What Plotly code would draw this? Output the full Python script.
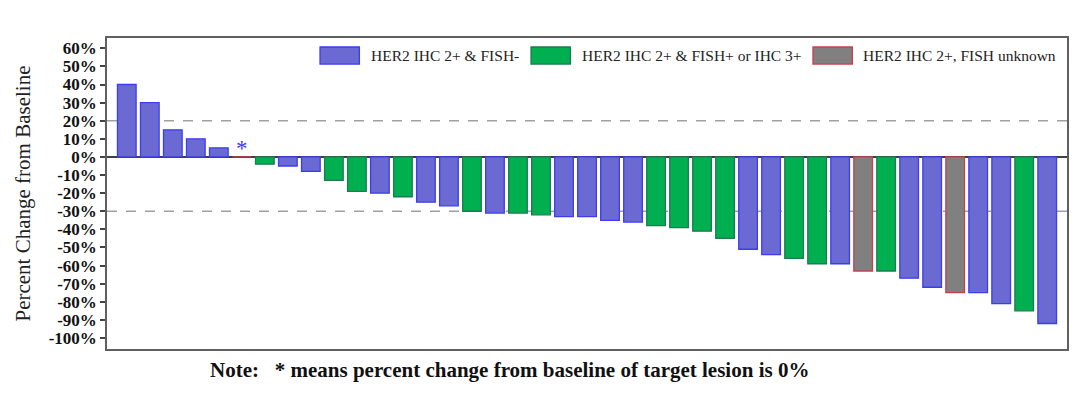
import plotly.graph_objects as go

# ---------------- data ----------------
values = [40, 30, 15, 10, 5, 0, -4, -5, -8, -13, -19, -20, -22, -25, -27,
          -30, -31, -31, -32, -33, -33, -35, -36, -38, -39, -41, -45,
          -51, -54, -56, -59, -59, -63, -63, -67, -72, -75, -75, -81, -85, -92]
groups = ["A", "A", "A", "A", "A", "C", "B", "A", "A", "B", "B", "A", "B", "A", "A",
          "B", "A", "B", "B", "A", "A", "A", "A", "B", "B", "B", "B",
          "A", "A", "B", "B", "A", "C", "B", "A", "A", "C", "A", "A", "B", "A"]
group_keys = ["A", "B", "C"]
group_names = ["HER2 IHC 2+ & FISH-", "HER2 IHC 2+ & FISH+ or IHC 3+", "HER2 IHC 2+, FISH unknown"]
zero_marker_index = [5]
tick_vals = [60, 50, 40, 30, 20, 10, 0, -10, -20, -30, -40, -50, -60, -70, -80, -90, -100]
tick_text = [f"{v}%" for v in tick_vals]
ref_lines = [20, -30]

# ---------------- style ----------------
fills = {"A": "#6A6AD2", "B": "#00B050", "C": "#808080"}
borders = {"A": "#3C3CF0", "B": "#1E7A50", "C": "#C8404C"}
FONT = "Liberation Serif"

fig = go.Figure()
for key, name in zip(group_keys, group_names):
    xs = [i for i, g in enumerate(groups) if g == key]
    ys = [values[i] for i in xs]
    fig.add_trace(go.Bar(
        x=xs, y=ys, name=name, width=0.81,
        marker=dict(color=fills[key], line=dict(color=borders[key], width=1.3)),
        showlegend=False,
    ))

for r in ref_lines:
    fig.add_shape(type="line", xref="paper", x0=0, x1=1, yref="y", y0=r, y1=r,
                  line=dict(color="#A0A0A0", width=1.5, dash="10px,9px"), layer="below")

# asterisk for 0% change
for i in zero_marker_index:
    fig.add_annotation(x=i, y=values[i], text="*", showarrow=False, yanchor="bottom",
                       yshift=-6, font=dict(family=FONT, size=23, color="#3A3AEE"))

# custom legend (wide swatches)
sw_x = [0.2219, 0.4417, 0.7354]
sw_w = 0.041
for key, name, x0 in zip(group_keys, group_names, sw_x):
    fig.add_shape(type="rect", xref="paper", yref="paper", x0=x0, x1=x0 + sw_w,
                  y0=0.916, y1=0.971,
                  fillcolor=fills[key], line=dict(color=borders[key], width=1.3))
    fig.add_annotation(xref="paper", yref="paper", x=x0 + sw_w + 0.0095, y=0.944,
                       xanchor="left", yanchor="middle", text=name, showarrow=False,
                       font=dict(family=FONT, size=15.5, color="#222"))

# y-axis title
fig.add_annotation(xref="paper", yref="paper", x=-0.0885, y=0.5, textangle=-90,
                   text="Percent Change from Baseline", showarrow=False,
                   xanchor="center", yanchor="middle",
                   font=dict(family=FONT, size=21, color="#222"))

# note
fig.add_annotation(xref="paper", yref="paper", x=0.419, y=-0.068,
                   text="<b>Note:   * means percent change from baseline of target lesion is 0%</b>",
                   showarrow=False, xanchor="center", yanchor="middle",
                   font=dict(family=FONT, size=21, color="#111"))

fig.update_layout(
    width=1072, height=385,
    margin=dict(l=99, r=13, t=30, b=44),
    paper_bgcolor="white", plot_bgcolor="white",
    barmode="overlay",
    showlegend=False,
    font=dict(family=FONT),
)
fig.update_xaxes(range=[-0.86, len(values) - 1 + 0.86], showticklabels=False, ticks="",
                 showgrid=False, zeroline=False, showline=True, mirror=True,
                 linecolor="#606060", linewidth=1.5, automargin=False)
fig.update_yaxes(range=[-106.1, 65.7], tickmode="array", tickvals=tick_vals, ticktext=tick_text,
                 ticks="outside", ticklen=5, tickwidth=1.5, tickcolor="#444",
                 tickfont=dict(family=FONT, size=17, color="#111", weight="bold"),
                 showgrid=False, zeroline=True, zerolinecolor="#404040", zerolinewidth=1.5,
                 showline=True, mirror=True, linecolor="#606060", linewidth=1.5,
                 layer="above traces", automargin=False)

fig.write_html("out.html")
